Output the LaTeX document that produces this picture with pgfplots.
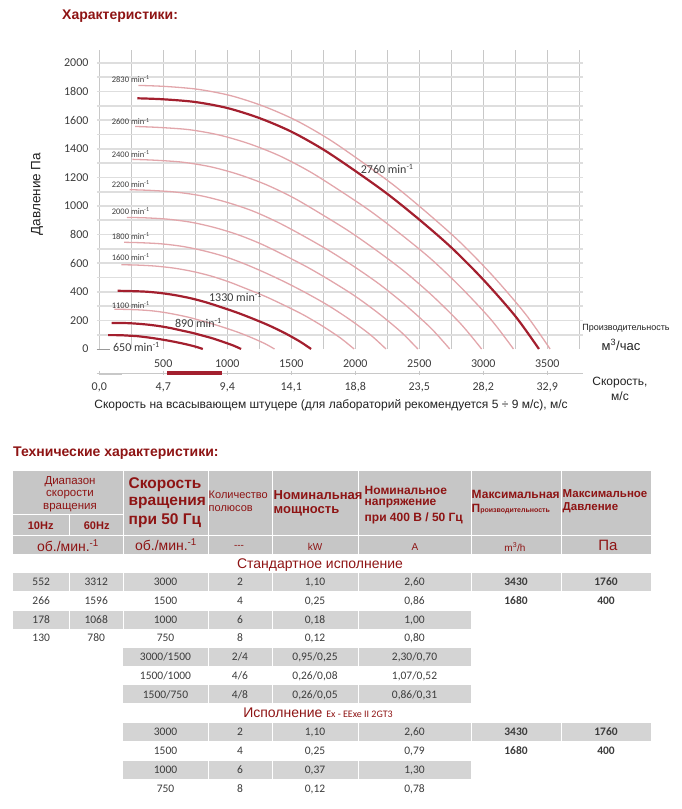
\documentclass[border=0pt]{standalone}
\usepackage{fontspec}
\setmainfont{Liberation Sans}
\newfontfamily\calfont{Carlito}
\usepackage{pgfplots}
\pgfplotsset{compat=1.18}
\definecolor{dred}{HTML}{A31F2E}
\definecolor{lred}{HTML}{E2A6AB}
\definecolor{tred}{HTML}{8E1414}
\definecolor{hdr}{HTML}{C6C6C6}
\definecolor{rowg}{HTML}{D4D4D4}
\definecolor{txt}{HTML}{3C3C3C}
\definecolor{gridv}{HTML}{C8C8C8}
\definecolor{gridh}{HTML}{DEDEDE}
\definecolor{lab}{HTML}{222222}
\newcommand\fs[1]{\fontsize{#1}{#1}\selectfont}
\newcommand\cell[3]{\node[font=\calfont\fs{11.5},text=txt,inner sep=0pt,anchor=base] at (#1,{#2+3.8}) {#3};}
\begin{document}
\begin{tikzpicture}
\useasboundingbox (0pt,0pt) rectangle (682pt,809pt);
\begin{axis}[
  at={(96.7pt,460pt)}, anchor=south west,
  scale only axis, width=486.4pt, height=298.9pt,
  xmin=-20, xmax=3780, ymin=0, ymax=2090,
  axis line style={draw=none},
  major tick length=0pt, minor tick length=0pt,
  xtick={500,1000,...,3500},
  minor xtick={0,250,750,1250,1750,2250,2750,3250,3750},
  ytick={0,200,...,2000},
  minor ytick={100,200,...,2000},
  xmajorgrids, xminorgrids, yminorgrids,
  x grid style={color=gridv, line width=0.8pt},
  y grid style={color=gridh, line width=1.7pt},
  tick label style={font=\calfont\fs{12}, text=txt},
  /pgf/number format/assume math mode=true,
  /pgf/number format/set thousands separator={},
  xticklabel style={anchor=center, yshift=-15pt},
  yticklabel style={anchor=east, xshift=-4.7pt},
  clip=false,
]
% light curves
\addplot[lred, line width=1.3pt, smooth] coordinates {(305,1843) (513,1836) (769,1816) (1025,1772) (1282,1698) (1538,1598) (1794,1467) (2051,1309) (2307,1141) (2563,951) (2820,746) (3076,510) (3332,242) (3522,0)};
\addplot[lred, line width=1.3pt, smooth] coordinates {(280,1556) (471,1549) (707,1533) (942,1495) (1178,1433) (1413,1349) (1649,1238) (1884,1105) (2120,963) (2355,803) (2591,630) (2826,430) (3062,204) (3236,0)};
\addplot[lred, line width=1.3pt, smooth] coordinates {(258,1326) (435,1320) (652,1306) (870,1274) (1087,1221) (1304,1149) (1522,1055) (1739,941) (1957,820) (2174,684) (2391,537) (2609,367) (2826,174) (2987,0)};
\addplot[lred, line width=1.3pt, smooth] coordinates {(237,1114) (399,1109) (598,1097) (797,1071) (996,1026) (1196,966) (1395,886) (1594,791) (1793,689) (1993,575) (2192,451) (2391,308) (2591,146) (2738,0)};
\addplot[lred, line width=1.3pt, smooth] coordinates {(215,920) (362,917) (543,907) (725,885) (906,848) (1087,798) (1268,733) (1449,654) (1630,570) (1812,475) (1993,373) (2174,255) (2355,121) (2489,0)};
\addplot[lred, line width=1.3pt, smooth] coordinates {(194,746) (326,743) (489,735) (652,717) (815,687) (978,647) (1141,593) (1304,530) (1467,461) (1630,385) (1793,302) (1957,206) (2120,98) (2240,0)};
\addplot[lred, line width=1.3pt, smooth] coordinates {(172,589) (290,587) (435,580) (580,566) (725,543) (870,511) (1014,469) (1159,418) (1304,365) (1449,304) (1594,239) (1739,163) (1884,77) (1991,0)};
\addplot[lred, line width=1.3pt, smooth] coordinates {(118,278) (199,277) (299,274) (399,268) (498,257) (598,241) (697,222) (797,198) (897,172) (996,144) (1096,113) (1196,77) (1295,37) (1369,0)};
% thick curves
\addplot[dred, line width=2.2pt, smooth] coordinates {(297,1753) (500,1746) (750,1727) (1000,1685) (1250,1615) (1500,1520) (1750,1395) (2000,1245) (2250,1085) (2500,905) (2750,710) (3000,485) (3250,230) (3435,0)};
\addplot[dred, line width=2.2pt, smooth] coordinates {(143,407) (241,405) (361,401) (482,391) (602,375) (723,353) (843,324) (964,289) (1084,252) (1205,210) (1325,165) (1446,113) (1566,53) (1655,0)};
\addplot[dred, line width=2.2pt, smooth] coordinates {(96,182) (161,182) (242,180) (322,175) (403,168) (484,158) (564,145) (645,129) (726,113) (806,94) (887,74) (967,50) (1048,24) (1108,0)};
\addplot[dred, line width=2.2pt, smooth] coordinates {(70,97) (118,97) (177,96) (236,93) (294,90) (353,84) (412,77) (471,69) (530,60) (589,50) (648,39) (707,27) (765,13) (809,0)};
% curve labels
\begin{scope}[every node/.style={anchor=west, inner sep=0pt, text=txt}]
\node[font=\calfont\fs{8.5}] at (axis cs:97,1888) {2830 min\textsuperscript{-1}};
\node[font=\calfont\fs{8.5}] at (axis cs:97,1590) {2600 min\textsuperscript{-1}};
\node[font=\calfont\fs{8.5}] at (axis cs:97,1362) {2400 min\textsuperscript{-1}};
\node[font=\calfont\fs{8.5}] at (axis cs:97,1154) {2200 min\textsuperscript{-1}};
\node[font=\calfont\fs{8.5}] at (axis cs:97,965) {2000 min\textsuperscript{-1}};
\node[font=\calfont\fs{8.5}] at (axis cs:97,792) {1800 min\textsuperscript{-1}};
\node[font=\calfont\fs{8.5}] at (axis cs:97,645) {1600 min\textsuperscript{-1}};
\node[font=\calfont\fs{8.5}] at (axis cs:97,308) {1100 min\textsuperscript{-1}};
\node[font=\calfont\fs{12}] at (axis cs:2042,1257) {2760 min\textsuperscript{-1}};
\node[font=\calfont\fs{12}] at (axis cs:857,364) {1330 min\textsuperscript{-1}};
\node[font=\calfont\fs{12}] at (axis cs:591,184) {890 min\textsuperscript{-1}};
\node[font=\calfont\fs{12}] at (axis cs:107,12) {650 min\textsuperscript{-1}};
\end{scope}
\draw[gray!80, line width=0.8pt] (axis cs:-20,0) -- (axis cs:80,0);
% velocity scale
\draw[gridv, line width=0.9pt] (axis cs:-20,-168) -- (axis cs:3780,-168);
\pgfplotsinvokeforeach{0,500,...,3500}{\draw[gridv, line width=0.8pt] (axis cs:#1,-152) -- (axis cs:#1,-180);}
\draw[gridv, line width=1.4pt] (axis cs:5,-180) -- (axis cs:175,-180);
\addplot[dred, line width=3.5pt] coordinates {(531,-168) (956,-168)};
\begin{scope}[every node/.style={inner sep=0pt, text=txt, font=\calfont\fs{12}}]
\node at (axis cs:0,-266) {0,0};
\node at (axis cs:500,-266) {4,7};
\node at (axis cs:1000,-266) {9,4};
\node at (axis cs:1500,-266) {14,1};
\node at (axis cs:2000,-266) {18,8};
\node at (axis cs:2500,-266) {23,5};
\node at (axis cs:3000,-266) {28,2};
\node at (axis cs:3500,-266) {32,9};
\end{scope}
\end{axis}
\begin{scope}[x=1pt, y=1pt, yshift=809pt, yscale=-1]
% chart texts
\node[anchor=west, inner sep=0pt, font=\bfseries\fs{14}, text=tred] at (62,16) {Характеристики:};
\node[rotate=90, inner sep=0pt, font=\fs{13.5}, text=lab] at (37,194) {Давление Па};
\node[inner sep=0pt, font=\fs{9}, text=lab] at (626,328) {Производительность};
\node[inner sep=0pt, font=\fs{13}, text=lab] at (621,345) {м\textsuperscript{3}/час};
\node[inner sep=0pt, font=\fs{12}, text=lab] at (620,383) {Скорость,};
\node[inner sep=0pt, font=\fs{12}, text=lab] at (620,396) {м/с};
\node[inner sep=0pt, font=\fs{12}, text=lab] at (331,405) {Скорость на всасывающем штуцере (для лабораторий рекомендуется 5 ÷ 9 м/с), м/с};
% table title
\node[anchor=west, inner sep=0pt, font=\bfseries\fs{14}, text=tred] at (13,453) {Технические характеристики:};
% header
\fill[hdr] (13,471) rectangle (651,554);
\foreach \xx in {123,208,272,358,471,561} \draw[white, line width=1pt] (\xx,471) -- (\xx,554);
\draw[white, line width=1pt] (13,515) -- (123,515);
\draw[white, line width=1pt] (69.5,515) -- (69.5,536);
\draw[white, line width=1pt] (13,536) -- (651,536);
\begin{scope}[every node/.style={inner sep=0pt, text=tred}]
\node[font=\fs{11.5}] at (70,482) {Диапазон};
\node[font=\fs{11.5}] at (70,494.5) {скорости};
\node[font=\fs{11.5}] at (70,507.5) {вращения};
\node[font=\bfseries\fs{11}] at (40.7,526) {10Hz};
\node[font=\bfseries\fs{11}] at (96.7,526) {60Hz};
\node[font=\fs{14}] at (68,545.5) {об./мин.\textsuperscript{-1}};
\node[font=\fs{14}] at (166,545) {об./мин.\textsuperscript{-1}};
\node[anchor=west, font=\bfseries\fs{15.5}] at (128.5,485) {Скорость};
\node[anchor=west, font=\bfseries\fs{15.5}] at (128.5,503.3) {вращения};
\node[anchor=west, font=\bfseries\fs{15.5}] at (128.5,521) {при 50 Гц};
\node[anchor=west, font=\fs{11}] at (208.5,495) {Количество};
\node[anchor=west, font=\fs{11}] at (208.5,509) {полюсов};
\node[anchor=west, font=\bfseries\fs{13}] at (273.5,495) {Номинальная};
\node[anchor=west, font=\bfseries\fs{13}] at (273.5,511) {мощность};
\node[anchor=west, font=\bfseries\fs{12}] at (364.5,490) {Номинальное};
\node[anchor=west, font=\bfseries\fs{12}] at (364.5,503.5) {напряжение};
\node[anchor=west, font=\bfseries\fs{12}] at (364.5,518.5) {при 400 В / 50 Гц};
\node[anchor=west, font=\bfseries\fs{12}] at (471.5,494) {Максимальная};
\node[anchor=west, font=\bfseries\fs{12}] at (471.5,509) {П{\fs{7}роизводительность}};
\node[anchor=west, font=\bfseries\fs{11.5}] at (562.5,494) {Максимальное};
\node[anchor=west, font=\bfseries\fs{11.5}] at (562.5,508) {Давление};
\node[font=\fs{10}] at (239,546.5) {-{}-{}-};
\node[font=\fs{10}] at (315,547) {kW};
\node[font=\fs{10}] at (415,547) {A};
\node[font=\fs{10}] at (515,547) {m\textsuperscript{3}/h};
\node[font=\fs{15}] at (608,545) {Па};
\node[font=\fs{14}] at (320,565) {Стандартное исполнение};
\node[font=\fs{14}] at (318,713) {Исполнение {\calfont\fs{10}Ex - EExe II 2GT3}};
\end{scope}
% stripes
\fill[rowg] (13,573) rectangle (651,591);
\foreach \xx in {69.5,123,208,272,358,471,561} \draw[white, line width=1pt] (\xx,573) -- (\xx,591);
\fill[rowg] (13,611) rectangle (471,629);
\foreach \xx in {69.5,123,208,272,358} \draw[white, line width=1pt] (\xx,611) -- (\xx,629);
\fill[rowg] (123,648) rectangle (471,666);
\foreach \xx in {208,272,358} \draw[white, line width=1pt] (\xx,648) -- (\xx,666);
\fill[rowg] (123,685.5) rectangle (471,703.5);
\foreach \xx in {208,272,358} \draw[white, line width=1pt] (\xx,685.5) -- (\xx,703.5);
\fill[rowg] (123,723) rectangle (651,741);
\foreach \xx in {208,272,358,471,561} \draw[white, line width=1pt] (\xx,723) -- (\xx,741);
\fill[rowg] (123,761) rectangle (471,779);
\foreach \xx in {208,272,358} \draw[white, line width=1pt] (\xx,761) -- (\xx,779);
% data
\cell{41.2}{582}{552}\cell{96.2}{582}{3312}\cell{165.5}{582}{3000}\cell{240}{582}{2}\cell{315}{582}{1,10}\cell{414.5}{582}{2,60}\cell{516}{582}{\bfseries 3430}\cell{606}{582}{\bfseries 1760}
\cell{41.2}{600.7}{266}\cell{96.2}{600.7}{1596}\cell{165.5}{600.7}{1500}\cell{240}{600.7}{4}\cell{315}{600.7}{0,25}\cell{414.5}{600.7}{0,86}\cell{516}{600.7}{\bfseries 1680}\cell{606}{600.7}{\bfseries 400}
\cell{41.2}{619.5}{178}\cell{96.2}{619.5}{1068}\cell{165.5}{619.5}{1000}\cell{240}{619.5}{6}\cell{315}{619.5}{0,18}\cell{414.5}{619.5}{1,00}
\cell{41.2}{638.2}{130}\cell{96.2}{638.2}{780}\cell{165.5}{638.2}{750}\cell{240}{638.2}{8}\cell{315}{638.2}{0,12}\cell{414.5}{638.2}{0,80}
\cell{165.5}{657}{3000/1500}\cell{240}{657}{2/4}\cell{315}{657}{0,95/0,25}\cell{414.5}{657}{2,30/0,70}
\cell{165.5}{675.7}{1500/1000}\cell{240}{675.7}{4/6}\cell{315}{675.7}{0,26/0,08}\cell{414.5}{675.7}{1,07/0,52}
\cell{165.5}{694.5}{1500/750}\cell{240}{694.5}{4/8}\cell{315}{694.5}{0,26/0,05}\cell{414.5}{694.5}{0,86/0,31}
\cell{165.5}{732}{3000}\cell{240}{732}{2}\cell{315}{732}{1,10}\cell{414.5}{732}{2,60}\cell{516}{732}{\bfseries 3430}\cell{606}{732}{\bfseries 1760}
\cell{165.5}{751}{1500}\cell{240}{751}{4}\cell{315}{751}{0,25}\cell{414.5}{751}{0,79}\cell{516}{751}{\bfseries 1680}\cell{606}{751}{\bfseries 400}
\cell{165.5}{770}{1000}\cell{240}{770}{6}\cell{315}{770}{0,37}\cell{414.5}{770}{1,30}
\cell{165.5}{789}{750}\cell{240}{789}{8}\cell{315}{789}{0,12}\cell{414.5}{789}{0,78}
\end{scope}
\end{tikzpicture}
\end{document}
